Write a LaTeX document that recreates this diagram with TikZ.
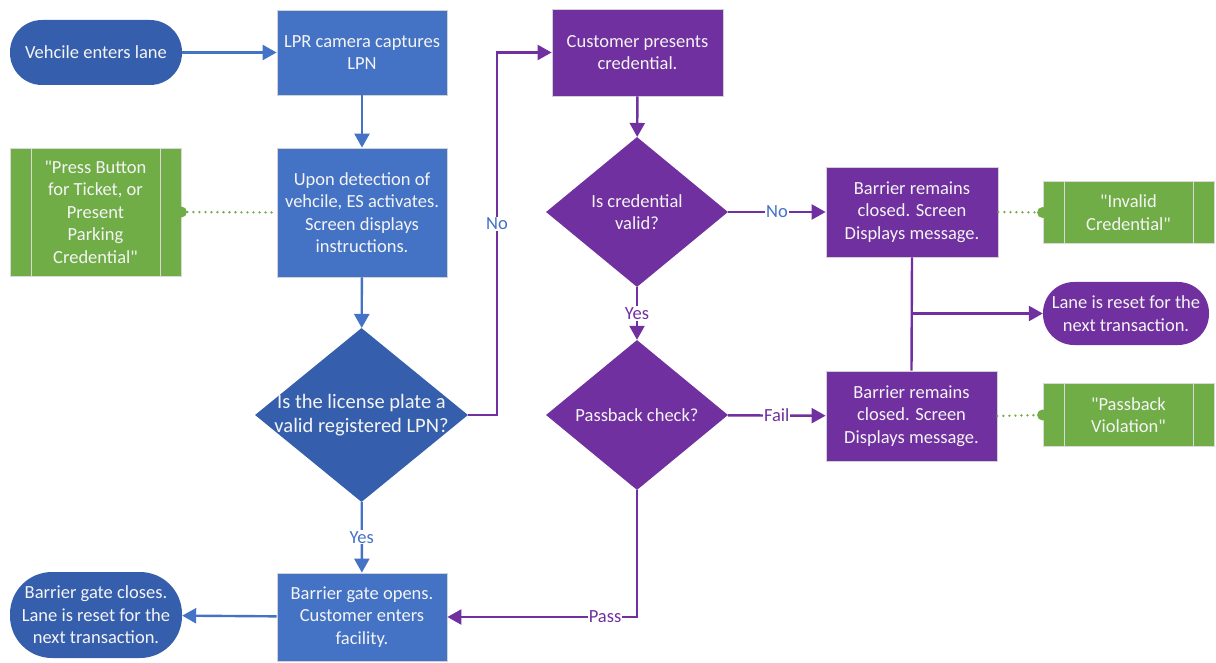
\documentclass[tikz,border=0pt]{standalone}
\usepackage{fontspec}
\setmainfont{Carlito}
\usetikzlibrary{shapes.geometric,arrows.meta,calc}
\definecolor{boxblue}{RGB}{68,114,196}
\definecolor{deepblue}{RGB}{53,95,172}
\definecolor{clrpurple}{RGB}{112,48,160}
\definecolor{leaf}{RGB}{112,173,71}
\definecolor{softwhite}{RGB}{244,244,244}
\tikzset{
  base/.style={align=center, text=softwhite, inner sep=0pt,
    font=\fontsize{18.5}{22.5}\selectfont},
  procbox/.style={base, rectangle, draw=gray!35, line width=0.8pt},
  stadium/.style={base, rectangle, rounded corners=#1},
  decision/.style={base, diamond, aspect=#1},
  msgbox/.style={base, rectangle, fill=leaf, draw=gray!30, line width=0.8pt,
    path picture={
      \draw[gray!30, line width=1pt]
        ([xshift=21pt]path picture bounding box.north west) -- ([xshift=21pt]path picture bounding box.south west)
        ([xshift=-21pt]path picture bounding box.north east) -- ([xshift=-21pt]path picture bounding box.south east);
    }},
  flow/.style={line width=2.4pt, -{Triangle[length=14pt,width=15pt]}},
  plainline/.style={line width=2.4pt},
  note/.style={draw=leaf, line width=2.6pt, line cap=round, dash pattern=on 0.01pt off 6pt},
  lbl/.style={fill=white, inner sep=1pt, font=\fontsize{18.5}{22.5}\selectfont},
}
\begin{document}
\begin{tikzpicture}[x=1pt,y=-1pt]
\useasboundingbox (0,0) rectangle (1216,663);

% left column: entry and licence plate check
\node[stadium=32pt, fill=deepblue, minimum width=172pt, minimum height=65pt] (start) at (96,52.5) {Vehcile enters lane};
\node[procbox, fill=boxblue, minimum width=170pt, minimum height=85pt] (lpr) at (362,52.5) {LPR camera captures\\LPN};
\node[procbox, fill=boxblue, minimum width=170pt, minimum height=129pt] (upon) at (362,212.5) {Upon detection of\\vehcile, ES activates.\\Screen displays\\instructions.};
\node[msgbox, minimum width=171pt, minimum height=128pt] (gleft) at (95.5,212) {\textquotedbl Press Button\\for Ticket, or\\Present\\Parking\\Credential\textquotedbl};
\node[decision=1.224, fill=deepblue, minimum width=213pt, minimum height=174pt,
      inner xsep=-10pt, inner ysep=-4pt,
      font=\fontsize{20.5}{24}\selectfont] (d1) at (361.5,415) {Is the license plate a\\valid registered LPN?};
\node[procbox, fill=boxblue, minimum width=170pt, minimum height=88pt] (open) at (362,617) {Barrier gate opens.\\Customer enters\\facility.};
\node[stadium=42pt, fill=deepblue, minimum width=172pt, minimum height=86pt] (closes) at (96,615) {Barrier gate closes.\\Lane is reset for the\\next transaction.};

% middle column: credential checks
\node[procbox, fill=clrpurple, minimum width=171pt, minimum height=87pt] (cust) at (637.5,52.5) {Customer presents\\credential.};
\node[decision=1.213, fill=clrpurple, minimum width=182pt, minimum height=150pt] (d2) at (637,212) {Is credential\\valid?};
\node[decision=1.213, fill=clrpurple, minimum width=182pt, minimum height=150pt] (d3) at (637,415) {Passback check?};

% right column: rejections and messages
\node[procbox, fill=clrpurple, minimum width=172pt, minimum height=90pt] (b1) at (912,212) {Barrier remains\\closed. Screen\\Displays message.};
\node[procbox, fill=clrpurple, minimum width=171pt, minimum height=90pt] (b2) at (911.5,416) {Barrier remains\\closed. Screen\\Displays message.};
\node[msgbox, minimum width=171pt, minimum height=62pt] (ginv) at (1128.5,212.5) {\textquotedbl Invalid\\Credential\textquotedbl};
\node[msgbox, minimum width=171pt, minimum height=63pt] (gpass) at (1128.5,415) {\textquotedbl Passback\\Violation\textquotedbl};
\node[stadium=31pt, fill=clrpurple, minimum width=166pt, minimum height=63pt] (reset) at (1126,313.5) {Lane is reset for the\\next transaction.};

% blue flow
\draw[flow, boxblue] (start) -- (lpr);
\draw[flow, boxblue] (lpr) -- (upon);
\draw[flow, boxblue] (upon) -- (d1);
\draw[flow, boxblue] (d1) -- node[lbl, text=boxblue] {Yes} (open);
\draw[flow, boxblue] (open) -- (closes);

% purple flow
\draw[flow, clrpurple] (d1.east) -- ++(29,0) |- (cust.west);
\node[lbl, text=boxblue] (nolbl) at (497,224) {No};
\draw[flow, clrpurple] (cust) -- (d2);
\draw[flow, clrpurple] (d2) -- node[lbl, text=boxblue] {No} (b1);
\draw[flow, clrpurple] (d2) -- node[lbl, text=clrpurple] {Yes} (d3);
\draw[flow, clrpurple] (d3) -- node[lbl, text=clrpurple] {Fail} (b2);
\draw[flow, clrpurple] (d3.south) |- (open.east);
\node[lbl, text=clrpurple] (passlbl) at (605,617) {Pass};
\draw[plainline, clrpurple] (b1.south) -- (b2.north);
\coordinate (junc) at (b1.south |- reset.west);
\draw[flow, clrpurple] (junc) -- (reset.west);

% dotted message links
\draw[note] (gleft.east) -- (upon.west);
\fill[leaf] (gleft.east) circle (5.5);
\draw[note] (b1.east) -- (ginv.west);
\fill[leaf] (ginv.west) circle (5.5);
\draw[note] (b2.east) -- (gpass.west);
\fill[leaf] (gpass.west) circle (5.5);
\end{tikzpicture}
\end{document}
